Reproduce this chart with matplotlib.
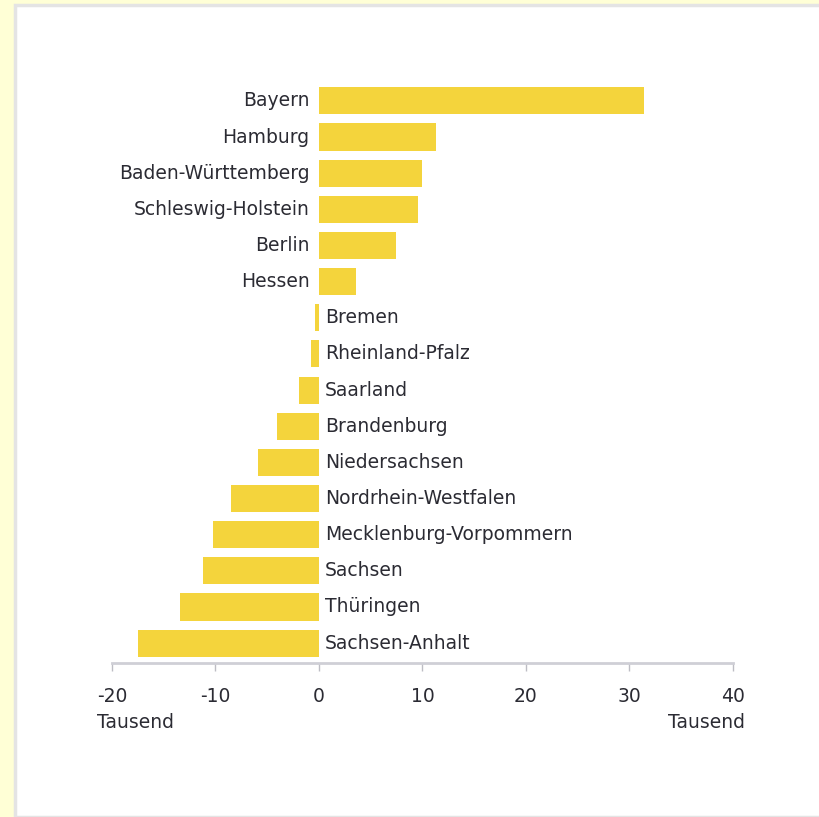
import matplotlib.pyplot as plt
from matplotlib.patches import Rectangle

# Wanderungssaldo je Bundesland, Tausend
states = ['Bayern', 'Hamburg', 'Baden-Württemberg', 'Schleswig-Holstein', 'Berlin',
          'Hessen', 'Bremen', 'Rheinland-Pfalz', 'Saarland', 'Brandenburg',
          'Niedersachsen', 'Nordrhein-Westfalen', 'Mecklenburg-Vorpommern',
          'Sachsen', 'Thüringen', 'Sachsen-Anhalt']
values = [31.4, 11.3, 10.0, 9.6, 7.4, 3.6, -0.4, -0.8, -1.9, -4.1,
          -5.9, -8.5, -10.2, -11.2, -13.4, -17.5]
xticks = [-20, -10, 0, 10, 20, 30, 40]

bar_color = '#F4D43C'
text_color = '#2b2b33'
fs = 13.5

fig = plt.figure(figsize=(8.19, 8.17), dpi=100)
fig.patch.set_facecolor('#FFFFD6')
# white panel with soft grey edge
W, H = 819, 817
panel = Rectangle((15 / W, 0), 1, 1 - 5 / H, transform=fig.transFigure,
                  facecolor='white', edgecolor='#e4e4e4', linewidth=2.5, zorder=-5)
fig.add_artist(panel)

ax = fig.add_axes([112 / W, 1 - 663 / H, 621 / W, (663 - 81) / H])
ax.set_zorder(1)
ax.set_facecolor('none')
y = list(range(len(states)))
ax.barh(y, values, height=0.75, color=bar_color, zorder=2)

for yi, name, v in zip(y, states, values):
    if v >= 0:
        ax.text(-0.9, yi, name, ha='right', va='center', fontsize=fs, color=text_color)
    else:
        ax.text(0.6, yi, name, ha='left', va='center', fontsize=fs, color=text_color)

ax.set_xlim(-20, 40)
ax.set_ylim(15.55, -0.55)
ax.set_xticks(xticks)
ax.set_xticklabels([str(t) for t in xticks], fontsize=fs, color=text_color)
ax.set_yticks([])
for s in ['top', 'right', 'left']:
    ax.spines[s].set_visible(False)
ax.spines['bottom'].set_color('#cfcfd6')
ax.spines['bottom'].set_linewidth(2)
ax.tick_params(axis='x', direction='out', length=6, width=1, color='#bdbdc4', pad=11)

fig.text(97 / W, 1 - 723 / H, 'Tausend', ha='left', va='center', fontsize=fs,
         color=text_color, zorder=2)
fig.text(745 / W, 1 - 723 / H, 'Tausend', ha='right', va='center', fontsize=fs,
         color=text_color, zorder=2)

fig.savefig('out.png', dpi=100, facecolor=fig.get_facecolor())
